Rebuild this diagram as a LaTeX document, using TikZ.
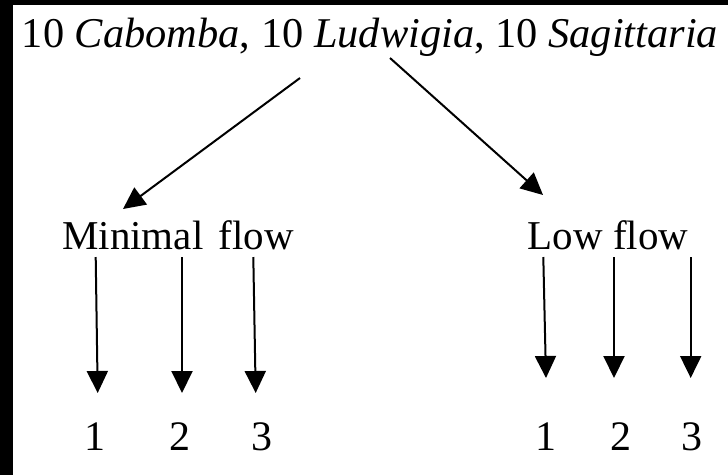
\documentclass[tikz,border=0pt]{standalone}
\usepackage{fontspec}
\setmainfont{Liberation Serif}
\usetikzlibrary{arrows.meta}
\tikzset{
  lbl/.style={anchor=base, inner sep=0pt, font=\fontsize{41}{48}\selectfont},
  ttl/.style={anchor=base, inner sep=0pt, font=\fontsize{42.4}{50}\selectfont},
  num/.style={anchor=base, inner sep=0pt, font=\fontsize{42}{50}\selectfont},
  arr/.style={line width=2pt, -{Triangle[length=22pt,width=21pt]}},
}
\begin{document}
\begin{tikzpicture}[x=1pt,y=-1pt]
\useasboundingbox (0,0) rectangle (728,475);
\fill[white] (0,0) rectangle (728,475);
\fill[black] (0,0) rectangle (13,475);
\fill[black] (0,0) rectangle (728,5);
% texts
\node[ttl] (title) at (370,47) {10 \textit{Cabomba}, 10 \textit{Ludwigia}, 10 \textit{Sagittaria}};
\node[lbl] (minimal) at (178,249) {Minimal \hspace{5pt}flow};
\node[lbl] (low) at (608,249) {Low flow};
\node[num] (m1) at (95,450) {1};
\node[num] (m2) at (180,450) {2};
\node[num] (m3) at (261.5,450) {3};
\node[num] (l1) at (545.5,450) {1};
\node[num] (l2) at (620.5,450) {2};
\node[num] (l3) at (692,450) {3};
% arrow ends
\coordinate (tA) at (300,78);
\coordinate (tB) at (390,58);
\coordinate (hA) at (123,209);
\coordinate (hB) at (543,195);
\coordinate (ms1) at (95.7,257);  \coordinate (me1) at (97.7,393);
\coordinate (ms2) at (182,257);   \coordinate (me2) at (182,393);
\coordinate (ms3) at (253.3,257); \coordinate (me3) at (255.7,393);
\coordinate (ls1) at (543.3,257); \coordinate (le1) at (546,378);
\coordinate (ls2) at (614,257);   \coordinate (le2) at (614,378);
\coordinate (ls3) at (690.7,257); \coordinate (le3) at (690.7,378);
% arrows
\draw[arr] (tA) -- (hA);
\draw[arr] (tB) -- (hB);
\draw[arr] (ms1) -- (me1);
\draw[arr] (ms2) -- (me2);
\draw[arr] (ms3) -- (me3);
\draw[arr] (ls1) -- (le1);
\draw[arr] (ls2) -- (le2);
\draw[arr] (ls3) -- (le3);
\end{tikzpicture}
\end{document}
